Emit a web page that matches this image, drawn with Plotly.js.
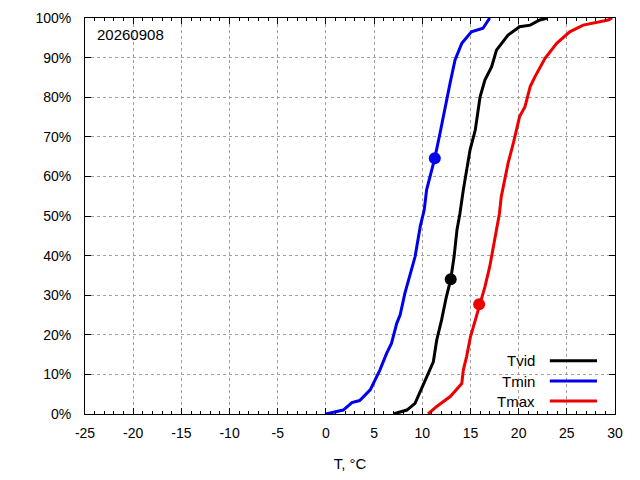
<!DOCTYPE html>
<html>
<head>
<meta charset="utf-8">
<script src="https://cdn.plot.ly/plotly-3.0.1.min.js"></script>
<style>body{margin:0;background:#fff}</style>
</head>
<body>
<div id="chart" style="width:640px;height:480px"></div>
<script>
// cumulative distribution, temperature (degC) vs share of days (%)
var tvidT = [7.0, 8.4, 9.25, 10.3, 11.15, 11.5, 12.0, 12.5, 12.95, 13.3, 13.6, 13.9, 14.26, 14.96, 15.5, 16.0, 16.5, 17.2, 17.7, 18.9, 20.1, 21.2, 22.2, 23.0];
var tvidP = [0, 1, 2.7, 8.6, 13.2, 18.7, 23.7, 29.6, 34, 39.7, 46.5, 50.5, 56.6, 66.7, 71.7, 80.1, 84.3, 87.7, 91.9, 95.7, 97.8, 98.2, 99.5, 100];

var tminT = [0.0, 1.0, 1.8, 2.7, 3.5, 4.6, 5.6, 6.3, 6.8, 7.35, 7.7, 8.2, 8.7, 9.25, 9.8, 10.2, 10.45, 11.3, 11.84, 12.36, 12.88, 13.4, 14.1, 15.1, 16.3, 17.0];
var tminP = [0, 0.6, 1.0, 2.9, 3.4, 6.1, 11.1, 15.3, 17.8, 22.9, 25, 30.5, 34.7, 39.7, 47.5, 51.5, 56.6, 64.6, 70.9, 77.6, 83.5, 89.4, 93.6, 96.5, 97.4, 100];

var tmaxT = [10.6, 11.5, 12.9, 14.1, 14.26, 14.6, 15.0, 15.5, 15.9, 16.5, 17.0, 17.3, 17.7, 18.0, 18.2, 18.9, 19.45, 20.1, 20.66, 21.2, 21.7, 22.74, 23.95, 25.3, 26.7, 28.1, 29.3, 29.7];
var tmaxP = [0, 1.9, 4.4, 7.7, 11.1, 14.5, 19.5, 23.7, 27.7, 32.1, 37.2, 41.4, 46.5, 50.5, 54.9, 63.3, 68.4, 75.1, 77.6, 82.7, 85.2, 89.8, 93.6, 96.5, 98.2, 99, 99.5, 100];

// today's values
var dayLabel = '20260908';
var nowT = [12.95, 11.3, 15.9];
var nowP = [34, 64.6, 27.7];

var names = ['Tvid', 'Tmin', 'Tmax'];
var colors = ['#000000', '#0000ee', '#ee0000'];
var xTicks = [-25, -20, -15, -10, -5, 0, 5, 10, 15, 20, 25, 30];
var xTickText = ['-25', '-20', '-15', '-10', '-5', '0', '5', '10', '15', '20', '25', '30'];
var yTicks = [0, 10, 20, 30, 40, 50, 60, 70, 80, 90, 100];
var yTickText = ['0%', '10%', '20%', '30%', '40%', '50%', '60%', '70%', '80%', '90%', '100%'];

var font = 'Liberation Sans, Arial, sans-serif';
var series = [[tvidT, tvidP], [tminT, tminP], [tmaxT, tmaxP]];

var data = [];
series.forEach(function(s, i) {
  data.push({
    type: 'scatter', mode: 'lines', name: names[i],
    x: s[0], y: s[1],
    line: {color: colors[i], width: 3},
    hoverinfo: 'skip'
  });
});
series.forEach(function(s, i) {
  data.push({
    type: 'scatter', mode: 'markers', name: names[i],
    x: [nowT[i]], y: [nowP[i]],
    marker: {color: colors[i], size: 12},
    hoverinfo: 'skip'
  });
});

// gnuplot-like key: label on the left, sample on the right
var annotations = [{
  text: dayLabel, xref: 'paper', yref: 'paper', x: 0.019, y: 0.985,
  xanchor: 'left', yanchor: 'top', showarrow: false,
  font: {family: font, size: 15, color: '#000'}
}];
var shapes = [];
var keyY = [0.1346, 0.0833, 0.0328];
names.forEach(function(n, i) {
  annotations.push({
    text: n, xref: 'paper', yref: 'paper', x: 0.853, y: keyY[i],
    xanchor: 'right', yanchor: 'middle', showarrow: false,
    font: {family: font, size: 15, color: '#000'}
  });
  shapes.push({
    type: 'line', xref: 'paper', yref: 'paper',
    x0: 0.877, x1: 0.966, y0: keyY[i], y1: keyY[i],
    line: {color: colors[i], width: 3}
  });
});

var layout = {
  width: 640, height: 480,
  margin: {l: 85, r: 25, t: 18, b: 66},
  paper_bgcolor: '#fff', plot_bgcolor: '#fff',
  showlegend: false,
  font: {family: font, size: 14, color: '#000'},
  xaxis: {
    range: [-25, 30], tickmode: 'array', tickvals: xTicks, ticktext: xTickText,
    showline: true, linecolor: '#000', linewidth: 1, mirror: 'ticks',
    ticks: 'inside', ticklen: 6, tickcolor: '#000',
    minor: {dtick: 1, ticks: 'inside', ticklen: 3, tickcolor: '#000', showgrid: false},
    showgrid: true, gridcolor: '#a0a0a0', griddash: 'dot', gridwidth: 1,
    zeroline: false, ticklabelstandoff: 6,
    title: {text: 'T, °C', font: {family: font, size: 15}, standoff: 18}
  },
  yaxis: {
    range: [0, 100], tickmode: 'array', tickvals: yTicks, ticktext: yTickText,
    showline: true, linecolor: '#000', linewidth: 1, mirror: 'ticks',
    ticks: 'inside', ticklen: 6, tickcolor: '#000',
    showgrid: true, gridcolor: '#a0a0a0', griddash: 'dot', gridwidth: 1,
    zeroline: false, ticklabelstandoff: 10
  },
  annotations: annotations,
  shapes: shapes
};

Plotly.newPlot('chart', data, layout, {staticPlot: true});
</script>
</body>
</html>
